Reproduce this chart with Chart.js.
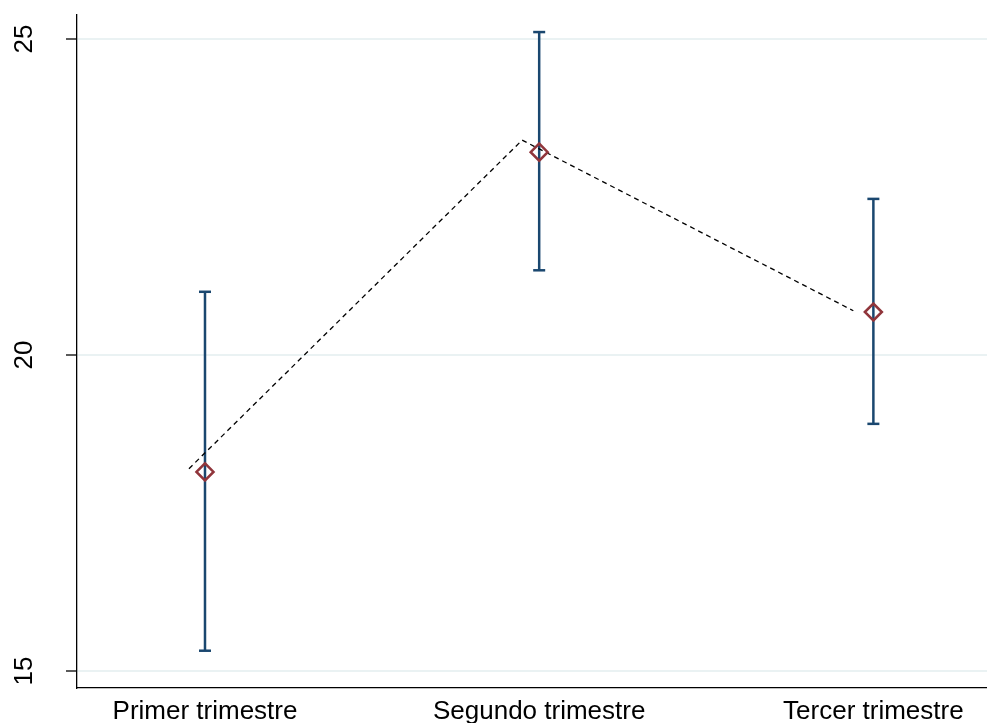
<!DOCTYPE html>
<html>
<head>
<meta charset="utf-8">
<script src="https://cdn.jsdelivr.net/npm/chart.js@4"></script>
<style>
  html, body { margin: 0; padding: 0; background: #fff; }
  #wrap { width: 987px; height: 723px; }
</style>
</head>
<body>
<div id="wrap"><canvas id="chart" width="987" height="723"></canvas></div>
<script>
const categories = ['Primer trimestre', 'Segundo trimestre', 'Tercer trimestre'];
const catX = [1, 2, 3];
const means = [18.15, 23.21, 20.68];
const upper = [21.0, 25.11, 22.47];
const lower = [15.32, 21.34, 18.91];
// dashed line sits a little to the left of each marker
const lineX = [0.952, 1.949, 2.940];
const lineY = [18.20, 23.40, 20.70];
const yTicks = [15, 20, 25];

const FONT = '"Liberation Sans", Arial, Helvetica, sans-serif';
const BLUE = '#1a476f';
const RED = '#90353b';

const errorSets = catX.map((x, i) => ({
    type: 'line',
    data: [{ x: x, y: lower[i] }, { x: x, y: upper[i] }],
    borderColor: BLUE,
    borderWidth: 2.5,
    pointStyle: 'line',
    pointRadius: 6,
    pointBorderColor: BLUE,
    pointBorderWidth: 2.5,
    pointHoverRadius: 6,
    order: 3
}));

// rotated y tick labels
const yLabels = {
    id: 'yLabels',
    afterDraw(chart) {
        const y = chart.scales.y;
        const ctx = chart.ctx;
        ctx.save();
        ctx.fillStyle = '#000';
        ctx.font = '26px ' + FONT;
        ctx.textAlign = 'center';
        ctx.textBaseline = 'middle';
        yTicks.forEach(v => {
            ctx.save();
            ctx.translate(25, y.getPixelForValue(v));
            ctx.rotate(-Math.PI / 2);
            ctx.fillText(String(v), 0, 0);
            ctx.restore();
        });
        ctx.restore();
    }
};

new Chart(document.getElementById('chart'), {
    type: 'scatter',
    data: {
        datasets: [
            {
                type: 'line',
                data: lineX.map((x, i) => ({ x: x, y: lineY[i] })),
                borderColor: '#000',
                borderWidth: 1.3,
                borderDash: [5, 4],
                pointRadius: 0,
                fill: false,
                order: 1
            },
            {
                data: catX.map((x, i) => ({ x: x, y: means[i] })),
                pointStyle: 'rectRot',
                pointRadius: 8.5,
                pointBackgroundColor: 'rgba(255,255,255,0)',
                pointBorderColor: RED,
                pointBorderWidth: 2.5,
                order: 0
            },
            ...errorSets
        ]
    },
    options: {
        responsive: false,
        animation: false,
        layout: { autoPadding: false, padding: { top: 15, right: 0, left: 0, bottom: 0 } },
        plugins: { legend: { display: false }, tooltip: { enabled: false } },
        scales: {
            x: {
                type: 'linear',
                min: 0.617,
                max: 3.34,
                afterBuildTicks: s => { s.ticks = catX.map(v => ({ value: v })); },
                afterFit: s => {
                    s.height = 35;
                    s.paddingLeft = 0;
                    s.paddingRight = 0;
                },
                ticks: {
                    callback: v => categories[catX.indexOf(v)] || '',
                    color: '#000',
                    font: { family: FONT, size: 26 },
                    padding: 8,
                    maxRotation: 0
                },
                grid: { display: false, drawTicks: false, tickLength: 0 },
                border: { display: true, color: '#000', width: 1.3 }
            },
            y: {
                min: 14.73,
                max: 25.38,
                afterBuildTicks: s => { s.ticks = yTicks.map(v => ({ value: v })); },
                afterFit: s => { s.width = 77; },
                ticks: { display: false },
                grid: {
                    color: '#eaf2f3',
                    lineWidth: 2,
                    drawTicks: true,
                    tickLength: 11,
                    tickColor: '#000',
                    tickWidth: 1.3
                },
                border: { display: true, color: '#000', width: 1.3 }
            }
        }
    },
    plugins: [yLabels]
});
</script>
</body>
</html>
